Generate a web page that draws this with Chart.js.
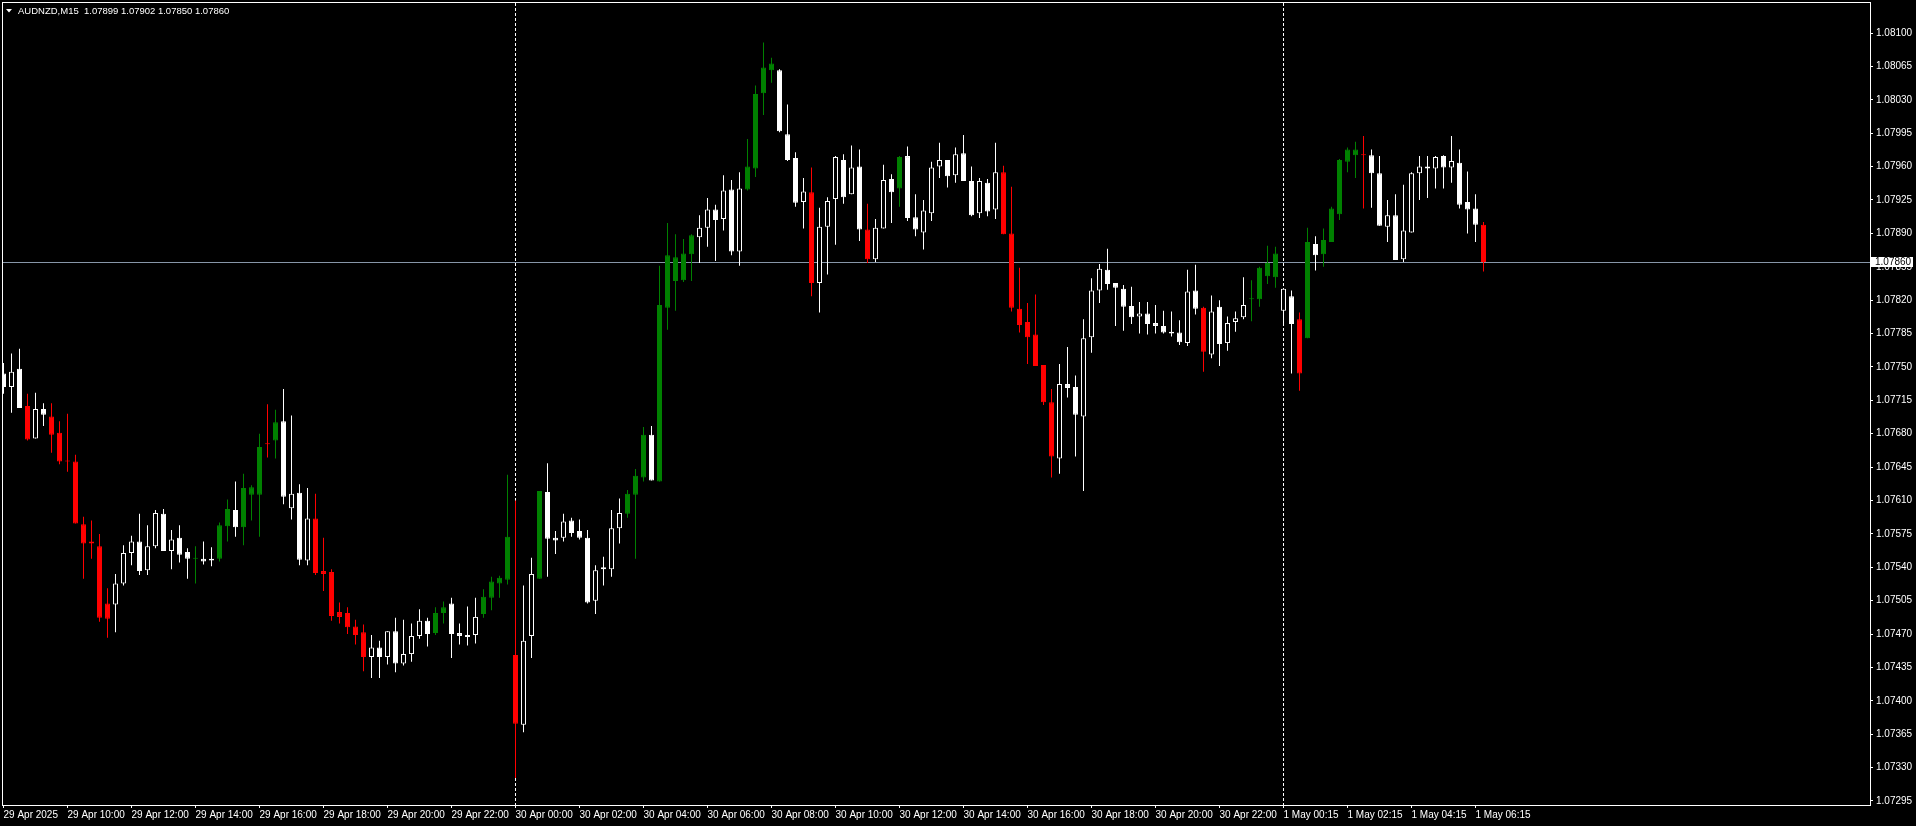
<!DOCTYPE html>
<html>
<head>
<meta charset="utf-8">
<title>AUDNZD,M15</title>
<script src="https://cdn.jsdelivr.net/npm/chart.js@4.4.1/dist/chart.umd.min.js"></script>
<style>
  html, body { margin: 0; padding: 0; background: #000; overflow: hidden; }
  canvas { display: block; }
</style>
</head>
<body>
<canvas id="chart" width="1916" height="826"></canvas>
<script>
// AUDNZD M15, one entry per bar, 29 Apr 08:00 .. 1 May 06:30
const symbol = "AUDNZD,M15";

const opens = [
  1.07743, 1.07729, 1.07748, 1.07709, 1.07675, 1.07706, 1.07698, 1.07681, 1.07652, 1.07651,
  1.07585, 1.07567, 1.07562, 1.07502, 1.07501, 1.07523, 1.07555, 1.07567, 1.07537, 1.07562,
  1.07596, 1.07557, 1.07571, 1.07556, 1.07549, 1.07549, 1.07547, 1.07549, 1.07583, 1.07600,
  1.07582, 1.07616, 1.07616, 1.07670, 1.07673, 1.07693, 1.07602, 1.07618, 1.07547, 1.07591,
  1.07536, 1.07535, 1.07493, 1.07492, 1.07478, 1.07472, 1.07446, 1.07456, 1.07446, 1.07473,
  1.07439, 1.07449, 1.07468, 1.07484, 1.07471, 1.07492, 1.07502, 1.07471, 1.07469, 1.07469,
  1.07491, 1.07508, 1.07523, 1.07527, 1.07448, 1.07375, 1.07468, 1.07528, 1.07619, 1.07571,
  1.07571, 1.07589, 1.07578, 1.07571, 1.07505, 1.07538, 1.07538, 1.07581, 1.07596, 1.07616,
  1.07634, 1.07679, 1.07630, 1.07812, 1.07840, 1.07841, 1.07868, 1.07886, 1.07896, 1.07915,
  1.07905, 1.07936, 1.07871, 1.07936, 1.07958, 1.08037, 1.08061, 1.08061, 1.07994, 1.07969,
  1.07923, 1.07933, 1.07838, 1.07897, 1.07926, 1.07967, 1.07931, 1.07960, 1.07894, 1.07863,
  1.07895, 1.07947, 1.07937, 1.07971, 1.07907, 1.07891, 1.07911, 1.07960, 1.07967, 1.07951,
  1.07974, 1.07945, 1.07911, 1.07943, 1.07915, 1.07954, 1.07890, 1.07811, 1.07797, 1.07784,
  1.07752, 1.07713, 1.07654, 1.07732, 1.07729, 1.07698, 1.07781, 1.07830, 1.07852, 1.07838,
  1.07832, 1.07814, 1.07803, 1.07806, 1.07796, 1.07793, 1.07787, 1.07786, 1.07775, 1.07830,
  1.07812, 1.07763, 1.07813, 1.07775, 1.07797, 1.07802, 1.07821, 1.07821, 1.07845, 1.07844,
  1.07809, 1.07824, 1.07800, 1.07780, 1.07879, 1.07868, 1.07881, 1.07910, 1.07965, 1.07972,
  1.07973, 1.07972, 1.07953, 1.07897, 1.07909, 1.07863, 1.07891, 1.07953, 1.07960, 1.07958,
  1.07971, 1.07959, 1.07964, 1.07923, 1.07916, 1.07899
];

const highs = [
  1.07754, 1.07764, 1.07769, 1.07722, 1.07723, 1.07712, 1.07712, 1.07693, 1.07701, 1.07658,
  1.07593, 1.07589, 1.07575, 1.07518, 1.07533, 1.07563, 1.07573, 1.07596, 1.07584, 1.07600,
  1.07601, 1.07579, 1.07584, 1.07560, 1.07562, 1.07567, 1.07561, 1.07587, 1.07611, 1.07630,
  1.07638, 1.07626, 1.07680, 1.07711, 1.07705, 1.07727, 1.07699, 1.07627, 1.07623, 1.07617,
  1.07571, 1.07538, 1.07503, 1.07498, 1.07485, 1.07480, 1.07469, 1.07463, 1.07473, 1.07487,
  1.07485, 1.07481, 1.07496, 1.07487, 1.07498, 1.07504, 1.07508, 1.07481, 1.07499, 1.07508,
  1.07517, 1.07530, 1.07531, 1.07637, 1.07610, 1.07521, 1.07550, 1.07620, 1.07649, 1.07578,
  1.07596, 1.07592, 1.07590, 1.07579, 1.07542, 1.07551, 1.07600, 1.07612, 1.07621, 1.07643,
  1.07687, 1.07688, 1.07856, 1.07901, 1.07889, 1.07884, 1.07889, 1.07909, 1.07927, 1.07920,
  1.07951, 1.07946, 1.07954, 1.07989, 1.08045, 1.08090, 1.08074, 1.08062, 1.08025, 1.07975,
  1.07948, 1.07959, 1.07917, 1.07928, 1.07971, 1.07973, 1.07982, 1.07978, 1.07921, 1.07905,
  1.07962, 1.07952, 1.07971, 1.07981, 1.07931, 1.07925, 1.07965, 1.07985, 1.07967, 1.07980,
  1.07993, 1.07960, 1.07948, 1.07947, 1.07985, 1.07961, 1.07939, 1.07854, 1.07817, 1.07826,
  1.07752, 1.07727, 1.07753, 1.07771, 1.07741, 1.07800, 1.07843, 1.07858, 1.07874, 1.07838,
  1.07836, 1.07834, 1.07818, 1.07818, 1.07815, 1.07809, 1.07808, 1.07799, 1.07852, 1.07857,
  1.07813, 1.07825, 1.07820, 1.07803, 1.07808, 1.07844, 1.07841, 1.07855, 1.07877, 1.07876,
  1.07832, 1.07830, 1.07807, 1.07896, 1.07887, 1.07895, 1.07918, 1.07968, 1.07980, 1.07986,
  1.07992, 1.07978, 1.07971, 1.07925, 1.07931, 1.07941, 1.07954, 1.07971, 1.07971, 1.07971,
  1.07972, 1.07992, 1.07978, 1.07955, 1.07931, 1.07902
];

const lows = [
  1.07722, 1.07702, 1.07707, 1.07673, 1.07675, 1.07688, 1.07660, 1.07648, 1.07640, 1.07586,
  1.07528, 1.07549, 1.07483, 1.07466, 1.07472, 1.07521, 1.07542, 1.07532, 1.07532, 1.07560,
  1.07557, 1.07538, 1.07545, 1.07528, 1.07523, 1.07543, 1.07541, 1.07546, 1.07567, 1.07572,
  1.07563, 1.07589, 1.07572, 1.07655, 1.07654, 1.07606, 1.07590, 1.07542, 1.07542, 1.07532,
  1.07515, 1.07484, 1.07481, 1.07470, 1.07459, 1.07431, 1.07424, 1.07424, 1.07438, 1.07430,
  1.07437, 1.07441, 1.07465, 1.07457, 1.07469, 1.07481, 1.07445, 1.07459, 1.07458, 1.07460,
  1.07487, 1.07495, 1.07508, 1.07522, 1.07319, 1.07367, 1.07445, 1.07528, 1.07530, 1.07554,
  1.07567, 1.07572, 1.07569, 1.07502, 1.07491, 1.07521, 1.07530, 1.07565, 1.07592, 1.07549,
  1.07630, 1.07631, 1.07630, 1.07789, 1.07809, 1.07839, 1.07840, 1.07859, 1.07876, 1.07861,
  1.07893, 1.07867, 1.07856, 1.07935, 1.07949, 1.08014, 1.08048, 1.07996, 1.07966, 1.07918,
  1.07895, 1.07824, 1.07807, 1.07847, 1.07878, 1.07921, 1.07931, 1.07882, 1.07859, 1.07860,
  1.07895, 1.07901, 1.07918, 1.07903, 1.07887, 1.07873, 1.07903, 1.07948, 1.07938, 1.07943,
  1.07945, 1.07908, 1.07906, 1.07908, 1.07905, 1.07889, 1.07808, 1.07786, 1.07753, 1.07751,
  1.07710, 1.07634, 1.07638, 1.07718, 1.07656, 1.07620, 1.07765, 1.07817, 1.07831, 1.07793,
  1.07788, 1.07795, 1.07785, 1.07784, 1.07785, 1.07785, 1.07782, 1.07773, 1.07772, 1.07805,
  1.07745, 1.07759, 1.07751, 1.07767, 1.07787, 1.07800, 1.07798, 1.07813, 1.07837, 1.07833,
  1.07796, 1.07743, 1.07725, 1.07780, 1.07851, 1.07855, 1.07881, 1.07904, 1.07954, 1.07948,
  1.07916, 1.07917, 1.07898, 1.07881, 1.07862, 1.07860, 1.07891, 1.07925, 1.07927, 1.07937,
  1.07937, 1.07943, 1.07916, 1.07890, 1.07881, 1.07850
];

const closes = [
  1.07729, 1.07745, 1.07707, 1.07674, 1.07706, 1.07700, 1.07679, 1.07651, 1.07651, 1.07586,
  1.07565, 1.07565, 1.07487, 1.07486, 1.07523, 1.07555, 1.07567, 1.07536, 1.07562, 1.07597,
  1.07557, 1.07569, 1.07553, 1.07549, 1.07550, 1.07546, 1.07549, 1.07584, 1.07601, 1.07582,
  1.07623, 1.07624, 1.07666, 1.07669, 1.07692, 1.07614, 1.07617, 1.07548, 1.07591, 1.07534,
  1.07533, 1.07489, 1.07488, 1.07477, 1.07469, 1.07446, 1.07456, 1.07446, 1.07473, 1.07439,
  1.07449, 1.07468, 1.07484, 1.07470, 1.07492, 1.07498, 1.07470, 1.07468, 1.07467, 1.07488,
  1.07509, 1.07525, 1.07529, 1.07572, 1.07376, 1.07463, 1.07533, 1.07620, 1.07570, 1.07568,
  1.07588, 1.07576, 1.07571, 1.07503, 1.07537, 1.07540, 1.07581, 1.07597, 1.07617, 1.07636,
  1.07679, 1.07631, 1.07815, 1.07867, 1.07865, 1.07869, 1.07888, 1.07896, 1.07915, 1.07904,
  1.07935, 1.07871, 1.07937, 1.07960, 1.08036, 1.08064, 1.08068, 1.07997, 1.07967, 1.07922,
  1.07934, 1.07838, 1.07897, 1.07924, 1.07970, 1.07928, 1.07959, 1.07894, 1.07863, 1.07896,
  1.07946, 1.07933, 1.07970, 1.07906, 1.07894, 1.07914, 1.07959, 1.07967, 1.07950, 1.07973,
  1.07945, 1.07909, 1.07945, 1.07913, 1.07954, 1.07889, 1.07812, 1.07794, 1.07781, 1.07751,
  1.07713, 1.07656, 1.07732, 1.07728, 1.07700, 1.07780, 1.07830, 1.07853, 1.07837, 1.07833,
  1.07813, 1.07802, 1.07806, 1.07795, 1.07793, 1.07786, 1.07785, 1.07776, 1.07829, 1.07811,
  1.07766, 1.07808, 1.07774, 1.07796, 1.07801, 1.07815, 1.07822, 1.07854, 1.07859, 1.07869,
  1.07832, 1.07795, 1.07743, 1.07881, 1.07867, 1.07883, 1.07916, 1.07967, 1.07978, 1.07978,
  1.07972, 1.07953, 1.07898, 1.07909, 1.07862, 1.07893, 1.07953, 1.07960, 1.07958, 1.07970,
  1.07959, 1.07966, 1.07920, 1.07915, 1.07899, 1.07860
];

// g = green candle, r = red candle, . = plain (hollow white up, filled white down)
const marks = [
  "...r..rrrr", "rrrr......", "....g..gg.", "gggrg....r", "rrrrrr....",
  "....gg....", "ggggr..g..", "........gg", "g.ggggg...", "...gggg...",
  ".r......r.", "..g.......", ".....rrrrr", "rr........", "..........",
  "r.....gggg", "..rg.ggggg", "r.........", ".....r"
].join("");

// time axis: a label every 8 bars
const timeTicks = [0, 8, 16, 24, 32, 40, 48, 56, 64, 72, 80, 88, 96, 104, 112, 120, 128, 136, 144, 152, 160, 168, 176, 184];
const timeLabels = [
  "29 Apr 2025", "29 Apr 10:00", "29 Apr 12:00", "29 Apr 14:00", "29 Apr 16:00", "29 Apr 18:00",
  "29 Apr 20:00", "29 Apr 22:00", "30 Apr 00:00", "30 Apr 02:00", "30 Apr 04:00", "30 Apr 06:00",
  "30 Apr 08:00", "30 Apr 10:00", "30 Apr 12:00", "30 Apr 14:00", "30 Apr 16:00", "30 Apr 18:00",
  "30 Apr 20:00", "30 Apr 22:00", "1 May 00:15", "1 May 02:15", "1 May 04:15", "1 May 06:15"
];

const priceTicks = [
  1.08100, 1.08065, 1.08030, 1.07995, 1.07960, 1.07925, 1.07890, 1.07855, 1.07820, 1.07785,
  1.07750, 1.07715, 1.07680, 1.07645, 1.07610, 1.07575, 1.07540, 1.07505, 1.07470, 1.07435,
  1.07400, 1.07365, 1.07330, 1.07295
];

// bars where a new day starts
const daySeparators = [64, 160];

const GREEN = "#008000";
const RED = "#ff0000";
const WHITE = "#ffffff";
const FONT = "'Liberation Sans', Arial, sans-serif";

const last = opens.length - 1;
const kinds = opens.map((o, i) => {
  if (marks[i] === "g") return "g";
  if (marks[i] === "r") return "r";
  return closes[i] >= o ? "up" : "down";
});
const lineColor = k => (k === "g" ? GREEN : k === "r" ? RED : WHITE);

// frame, title, day separators, bid line and price label
const terminalOverlay = {
  id: "terminalOverlay",
  beforeDatasetsDraw(chart) {
    const { ctx, chartArea, scales } = chart;
    ctx.save();
    ctx.lineWidth = 1;
    ctx.strokeStyle = WHITE;
    ctx.setLineDash([3, 2]);
    daySeparators.forEach(i => {
      const x = Math.floor(scales.x.getPixelForValue(i)) + 0.5;
      ctx.beginPath();
      ctx.moveTo(x, 3);
      ctx.lineTo(x, chartArea.bottom);
      ctx.stroke();
    });
    ctx.setLineDash([]);
    const y = Math.floor(scales.y.getPixelForValue(closes[last])) + 0.5;
    ctx.strokeStyle = "#8796a8";
    ctx.beginPath();
    ctx.moveTo(chartArea.left, y);
    ctx.lineTo(chartArea.right, y);
    ctx.stroke();
    ctx.restore();
  },
  afterDraw(chart) {
    const { ctx, chartArea, scales } = chart;
    ctx.save();
    ctx.strokeStyle = WHITE;
    ctx.lineWidth = 1;
    ctx.strokeRect(2.5, 2.5, chartArea.right - 2, chartArea.bottom - 2);

    // title
    ctx.fillStyle = WHITE;
    ctx.beginPath();
    ctx.moveTo(6, 9);
    ctx.lineTo(12, 9);
    ctx.lineTo(9, 12.5);
    ctx.closePath();
    ctx.fill();
    ctx.font = "9.5px " + FONT;
    ctx.textBaseline = "middle";
    const f = v => v.toFixed(5);
    ctx.fillText(symbol + "  " + [opens[last], highs[last], lows[last], closes[last]].map(f).join(" "), 18, 11);

    // current price label
    const y = Math.floor(scales.y.getPixelForValue(closes[last]));
    ctx.fillStyle = WHITE;
    ctx.fillRect(chartArea.right + 1, y - 5, 42, 10);
    ctx.fillStyle = "#000";
    ctx.font = "10px " + FONT;
    ctx.fillText(f(closes[last]), chartArea.right + 5, y + 0.5);
    ctx.restore();
  }
};

new Chart(document.getElementById("chart"), {
  type: "bar",
  data: {
    datasets: [
      {
        label: "body",
        data: opens.map((o, i) => ({ x: i, y: [Math.min(o, closes[i]), Math.max(o, closes[i])] })),
        backgroundColor: kinds.map(k => (k === "up" ? "#000000" : lineColor(k))),
        borderColor: kinds.map(lineColor),
        borderWidth: 1,
        borderSkipped: false,
        barThickness: 5,
        maxBarThickness: 5,
        minBarLength: 1,
        inflateAmount: 0,
        grouped: false
      },
      {
        label: "wick",
        data: lows.map((l, i) => ({ x: i, y: [l, highs[i]] })),
        backgroundColor: kinds.map(lineColor),
        borderWidth: 0,
        barThickness: 1,
        maxBarThickness: 1,
        minBarLength: 1,
        inflateAmount: 0,
        grouped: false
      }
    ]
  },
  options: {
    responsive: false,
    animation: false,
    devicePixelRatio: 1,
    layout: { padding: { left: 2, top: 3, right: 0, bottom: 0 } },
    plugins: { legend: { display: false }, tooltip: { enabled: false } },
    scales: {
      x: {
        type: "linear",
        offset: false,
        min: -0.1875,
        max: 233.3125,
        border: { display: false },
        grid: { offset: false, drawOnChartArea: false, drawTicks: true, tickLength: 3, color: WHITE },
        ticks: {
          autoSkip: false,
          maxRotation: 0,
          align: "start",
          padding: 1,
          color: WHITE,
          font: { family: FONT, size: 10 },
          callback: value => timeLabels[timeTicks.indexOf(value)]
        },
        afterBuildTicks: scale => { scale.ticks = timeTicks.map(v => ({ value: v })); },
        afterFit: scale => { scale.height = 21; scale.paddingLeft = 0; scale.paddingRight = 0; }
      },
      y: {
        type: "linear",
        position: "right",
        min: 1.072908,
        max: 1.081315,
        border: { display: false },
        grid: { drawOnChartArea: false, drawTicks: true, tickLength: 3, color: WHITE },
        ticks: {
          autoSkip: false,
          padding: 3,
          color: WHITE,
          font: { family: FONT, size: 10 },
          callback: value => value.toFixed(5)
        },
        afterBuildTicks: scale => { scale.ticks = priceTicks.map(v => ({ value: v })); },
        afterFit: scale => { scale.width = 46; scale.paddingTop = 0; scale.paddingBottom = 0; }
      }
    }
  },
  plugins: [terminalOverlay]
});
</script>
</body>
</html>
